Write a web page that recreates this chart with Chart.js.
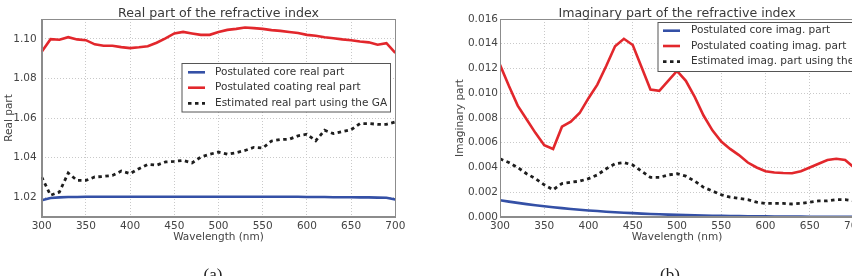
<!DOCTYPE html>
<html>
<head>
<meta charset="utf-8">
<script src="https://cdn.jsdelivr.net/npm/chart.js@4/dist/chart.umd.min.js"></script>
<style>
  html, body { margin: 0; padding: 0; background: #fff; }
  #wrap { position: relative; width: 852px; height: 276px; overflow: hidden; }
  canvas { position: absolute; top: 0; }
  .cap { position: absolute; font-family: "Liberation Serif", serif; font-size: 17px; line-height: 1; color: #222; transform: translateX(-50%); }
</style>
</head>
<body>
<div id="wrap">
  <canvas id="real-chart" width="430" height="276" style="left:0"></canvas>
  <canvas id="imag-chart" width="430" height="276" style="left:430px"></canvas>
  <div class="cap" style="left:213px; top:266px">(a)</div>
  <div class="cap" style="left:670px; top:266px">(b)</div>
</div>
<script>
// ─── DATA ─────────────────────────────────────────────
const wavelengths = [300, 310, 320, 330, 340, 350, 360, 370, 380, 390, 400, 410, 420, 430, 440, 450, 460, 470, 480, 490, 500,
  510, 520, 530, 540, 550, 560, 570, 580, 590, 600, 610, 620, 630, 640, 650, 660, 670, 680, 690, 700];

const xTicks = [300, 350, 400, 450, 500, 550, 600, 650, 700];
const realTicks = [1.02, 1.04, 1.06, 1.08, 1.10];
const imagTicks = [0, 0.002, 0.004, 0.006, 0.008, 0.010, 0.012, 0.014, 0.016];

const realLabels = ['Postulated core real part', 'Postulated coating real part', 'Estimated real part using the GA'];
const imagLabels = ['Postulated core imag. part', 'Postulated coating imag. part', 'Estimated imag. part using the GA'];

// (a) real part
const coreReal = [1.0185, 1.0196, 1.0199, 1.0201, 1.0201, 1.0202, 1.0202, 1.0202, 1.0202, 1.0202, 1.0202, 1.0202, 1.0202, 1.0202,
  1.0202, 1.0202, 1.0202, 1.0202, 1.0202, 1.0202, 1.0202, 1.0202, 1.0202, 1.0202, 1.0202, 1.0202, 1.0202, 1.0202, 1.0202,
  1.0202, 1.0201, 1.0201, 1.0201, 1.0200, 1.0200, 1.0200, 1.0199, 1.0199, 1.0198, 1.0197, 1.0188];
const coatingReal = [1.0934, 1.0998, 1.0995, 1.1008, 1.0997, 1.0993, 1.0972, 1.0965, 1.0965, 1.0958, 1.0953, 1.0957, 1.0962,
  1.0980, 1.1002, 1.1027, 1.1035, 1.1027, 1.1020, 1.1020, 1.1034, 1.1045, 1.1050, 1.1057, 1.1054, 1.1050, 1.1044, 1.1040,
  1.1034, 1.1029, 1.1020, 1.1015, 1.1008, 1.1003, 1.0997, 1.0993, 1.0986, 1.0982, 1.0970, 1.0978, 1.0929];
const estReal = [1.0302, 1.0210, 1.0226, 1.0322, 1.0285, 1.0285, 1.0302, 1.0305, 1.0310, 1.0332, 1.0319, 1.0344, 1.0366,
  1.0362, 1.0378, 1.0381, 1.0386, 1.0373, 1.0403, 1.0417, 1.0428, 1.0417, 1.0425, 1.0436, 1.0452, 1.0448, 1.0484, 1.0491,
  1.0493, 1.0510, 1.0518, 1.0485, 1.0538, 1.0521, 1.0531, 1.0541, 1.0572, 1.0572, 1.0568, 1.0568, 1.0580];

// (b) imaginary part
const coreImag = [0.00135, 0.00124, 0.00114, 0.00104, 0.00095, 0.00087, 0.00079, 0.00072, 0.00065, 0.00059, 0.00053, 0.00048,
  0.00043, 0.00038, 0.00034, 0.00031, 0.00027, 0.00024, 0.00022, 0.00019, 0.00017, 0.00015, 0.00013, 0.00012, 0.00010,
  0.00009, 0.00008, 0.00007, 0.00006, 0.00005, 0.00005, 0.00004, 0.00004, 0.00003, 0.00003, 0.00002, 0.00002, 0.00002,
  0.00002, 0.00001, 0.00001];
const coatingImag = [0.0123, 0.0106, 0.0090, 0.0079, 0.0068, 0.0058, 0.0055, 0.0073, 0.0077, 0.0084, 0.0096, 0.0107, 0.0122,
  0.0138, 0.0144, 0.0139, 0.0121, 0.0103, 0.0102, 0.0110, 0.0118, 0.0110, 0.0097, 0.0082, 0.0070, 0.0061, 0.0055, 0.0050,
  0.0044, 0.0040, 0.0037, 0.0036, 0.00355, 0.00353, 0.0037, 0.0040, 0.0043, 0.0046, 0.0047, 0.0046, 0.0040];
const estImag = [0.0047, 0.0044, 0.0040, 0.0035, 0.0031, 0.0026, 0.0022, 0.0027, 0.0028, 0.0029, 0.0031, 0.0034, 0.0039,
  0.0043, 0.0044, 0.0042, 0.0037, 0.0032, 0.0032, 0.0034, 0.0035, 0.0033, 0.0029, 0.0024, 0.0021, 0.0018, 0.0016, 0.0015,
  0.0014, 0.0012, 0.0011, 0.0011, 0.0011, 0.00105, 0.0011, 0.0012, 0.0013, 0.0013, 0.0014, 0.0014, 0.0013];

// ─── STYLE ────────────────────────────────────────────
const FONT = '"DejaVu Sans", sans-serif';
const BLUE = '#3450a6';
const RED = '#e2272c';
const BLACK = '#1e1e1e';

const toPoints = ys => ys.map((y, i) => ({ x: wavelengths[i], y }));

function makeDatasets(labels, core, coating, est) {
  const base = { pointRadius: 0, borderWidth: 2.6, tension: 0, fill: false };
  return [
    { ...base, label: labels[0], data: toPoints(core), borderColor: BLUE, order: 3 },
    { ...base, label: labels[1], data: toPoints(coating), borderColor: RED, order: 2 },
    { ...base, label: labels[2], data: toPoints(est), borderColor: BLACK, borderDash: [3.5, 3.5], borderWidth: 2.8, order: 1 }
  ];
}

// ─── DECOR PLUGIN: frame, title, axis labels, inner legend ──
const decorPlugin = {
  id: 'decor',
  afterDraw(chart, args, opts) {
    const { ctx, chartArea: a } = chart;
    ctx.save();

    // full box round the axes (matplotlib style)
    ctx.strokeStyle = '#8c8c8c';
    ctx.lineWidth = 1;
    ctx.strokeRect(Math.round(a.left) + 0.5, Math.round(a.top) + 0.5,
      Math.round(a.right - a.left) - 1, Math.round(a.bottom - a.top) - 1);

    // title
    ctx.fillStyle = '#3a3a3a';
    ctx.font = `12.6px ${FONT}`;
    ctx.textAlign = 'center';
    ctx.textBaseline = 'alphabetic';
    ctx.fillText(opts.title, (a.left + a.right) / 2, 16.5);

    // x axis title
    ctx.fillStyle = '#444';
    ctx.font = `10.5px ${FONT}`;
    ctx.textBaseline = 'middle';
    ctx.fillText('Wavelength (nm)', (a.left + a.right) / 2, 237.5);

    // y axis title
    ctx.save();
    ctx.translate(opts.yTitleX, (a.top + a.bottom) / 2);
    ctx.rotate(-Math.PI / 2);
    ctx.fillText(opts.yTitle, 0, 0);
    ctx.restore();

    // legend inside the axes
    const L = opts.legend;
    ctx.fillStyle = '#fff';
    ctx.fillRect(L.x, L.y, L.w, L.h);
    ctx.strokeStyle = '#555';
    ctx.strokeRect(L.x + 0.5, L.y + 0.5, L.w, L.h);
    chart.data.datasets.forEach((ds, i) => {
      const y = L.rows[i];
      ctx.save();
      ctx.strokeStyle = ds.borderColor;
      ctx.lineWidth = ds.borderWidth;
      ctx.setLineDash(ds.borderDash || []);
      ctx.beginPath();
      ctx.moveTo(L.lineX, y);
      ctx.lineTo(L.lineX + 17, y);
      ctx.stroke();
      ctx.restore();
      ctx.fillStyle = '#333';
      ctx.textAlign = 'left';
      ctx.textBaseline = 'middle';
      ctx.fillText(ds.label, L.textX, y);
    });

    ctx.restore();
  }
};

// ─── CHART FACTORY ────────────────────────────────────
function makeChart(id, datasets, yMin, yMax, yTicks, digits, geo, decor) {
  const fixScale = (size) => s => {
    if (s.isHorizontal()) s.height = size; else s.width = size;
    s.paddingLeft = 0; s.paddingRight = 0; s.paddingTop = 0; s.paddingBottom = 0;
  };
  const tickFont = { family: FONT, size: 10.5 };

  return new Chart(document.getElementById(id), {
    type: 'line',
    data: { datasets },
    plugins: [decorPlugin],
    options: {
      responsive: false,
      animation: false,
      layout: { padding: { top: 19, right: geo.padRight, left: 0, bottom: 0 } },
      plugins: {
        legend: { display: false },
        tooltip: { enabled: false },
        decor
      },
      scales: {
        x: {
          type: 'linear',
          min: 300,
          max: 700,
          afterBuildTicks: s => { s.ticks = xTicks.map(v => ({ value: v })); },
          afterFit: fixScale(59),
          ticks: { color: '#444', font: tickFont, padding: 3, maxRotation: 0, autoSkip: false, callback: v => String(v) },
          grid: { color: '#c9c9c9', drawTicks: false },
          border: { color: '#8c8c8c', dash: [1, 2] }
        },
        y: {
          min: yMin,
          max: yMax,
          afterBuildTicks: s => { s.ticks = yTicks.map(v => ({ value: v })); },
          afterFit: fixScale(geo.yWidth),
          ticks: { color: '#444', font: tickFont, padding: geo.yPad, autoSkip: false, callback: v => v.toFixed(digits) },
          grid: { color: '#c9c9c9', drawTicks: false },
          border: { color: '#8c8c8c', dash: [1, 2] }
        }
      }
    }
  });
}

// ─── INIT ─────────────────────────────────────────────
makeChart('real-chart', makeDatasets(realLabels, coreReal, coatingReal, estReal), 1.01, 1.11, realTicks, 2,
  { padRight: 34.7, yWidth: 41.7, yPad: 5 },
  {
    title: 'Real part of the refractive index',
    yTitle: 'Real part',
    yTitleX: 9.5,
    legend: { x: 181.5, y: 63, w: 208.5, h: 48.5, rows: [72.3, 87.7, 103.3], lineX: 188, textX: 215 }
  });

makeChart('imag-chart', makeDatasets(imagLabels, coreImag, coatingImag, estImag), 0, 0.016, imagTicks, 3,
  { padRight: 6, yWidth: 70, yPad: 2 },
  {
    title: 'Imaginary part of the refractive index',
    yTitle: 'Imaginary part',
    yTitleX: 30,
    legend: { x: 227.5, y: 22, w: 260, h: 49, rows: [30.7, 46, 61.7], lineX: 233, textX: 261 }
  });
</script>
</body>
</html>
